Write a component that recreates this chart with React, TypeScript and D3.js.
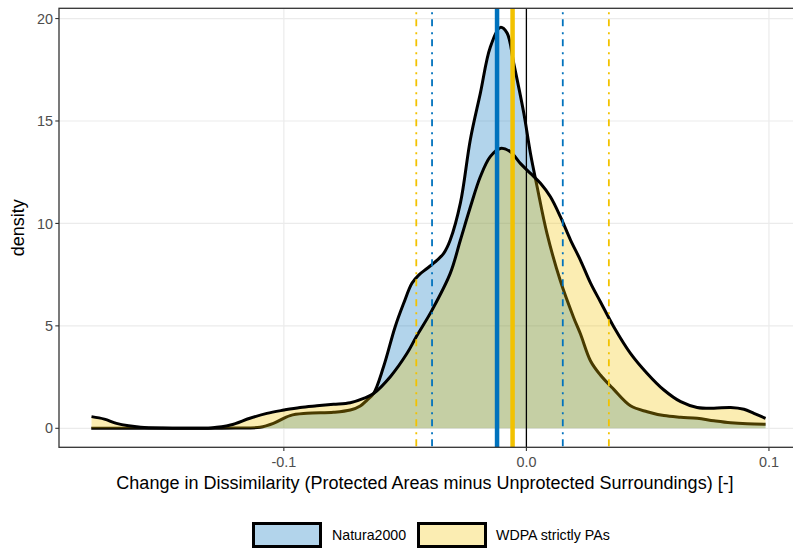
import React from "react";
import * as d3 from "d3";

// Density estimates of the change in dissimilarity for each protected-area set
const naturaX = [-0.1794, -0.16, -0.14, -0.12, -0.1098, -0.1043, -0.0974, -0.0905, -0.0795, -0.0726, -0.0685, -0.0657, -0.063, -0.0589, -0.0541, -0.0506, -0.0472, -0.0444, -0.041, -0.0369, -0.0341, -0.0314, -0.0272, -0.0231, -0.019, -0.0149, -0.0107, -0.008, -0.0052, -0.0011, 0.0017, 0.0044, 0.0085, 0.014, 0.0195, 0.0223, 0.0264, 0.0305, 0.036, 0.0429, 0.0498, 0.0567, 0.0636, 0.0704, 0.0773, 0.0842, 0.091, 0.0986];
const naturaY = [0, 0, 0, 0.01, 0.05, 0.24, 0.62, 0.73, 0.78, 0.89, 1.09, 1.38, 1.7, 3.0, 4.96, 6.1, 7.08, 7.48, 7.8, 8.2, 8.54, 9.19, 11.0, 14.1, 16.35, 18.6, 19.57, 19.3, 17.8, 15.4, 13.4, 11.8, 9.5, 7.2, 5.4, 4.6, 3.3, 2.6, 1.9, 1.1, 0.81, 0.62, 0.54, 0.49, 0.37, 0.27, 0.22, 0.2];

const wdpaX = [-0.1793, -0.174, -0.169, -0.164, -0.159, -0.15, -0.14, -0.13, -0.122, -0.114, -0.107, -0.1, -0.0933, -0.0864, -0.0795, -0.0726, -0.0671, -0.063, -0.0561, -0.0492, -0.0454, -0.0389, -0.0314, -0.0272, -0.0231, -0.019, -0.0149, -0.0107, -0.0066, -0.0025, 0.0017, 0.0058, 0.0099, 0.014, 0.0182, 0.0223, 0.0264, 0.0305, 0.036, 0.0429, 0.0498, 0.0567, 0.0636, 0.0704, 0.0773, 0.0842, 0.0897, 0.0938, 0.0986];
const wdpaY = [0.57, 0.45, 0.24, 0.12, 0.05, 0.01, 0, 0.02, 0.16, 0.49, 0.73, 0.89, 1.02, 1.1, 1.17, 1.25, 1.46, 1.7, 2.52, 3.66, 4.47, 5.77, 7.56, 9.19, 10.8, 12.28, 13.26, 13.66, 13.5, 12.93, 12.44, 11.96, 11.3, 10.33, 9.19, 8.2, 7.1, 6.18, 4.96, 3.66, 2.68, 1.87, 1.3, 1.02, 0.98, 1.02, 0.93, 0.73, 0.49];

// Means and interval bounds
const seriesNames = ["Natura2000", "WDPA strictly PAs"];
const seriesColors = ["#0072BD", "#F2C200"];
const meanValues = [-0.0121, -0.0057];
const lowerBounds = [-0.0389, -0.0454];
const upperBounds = [0.015, 0.034];

const xTicks = [-0.1, 0.0, 0.1];
const xTickLabels = ["-0.1", "0.0", "0.1"];
const yTicks = [0, 5, 10, 15, 20];

const W = 793;
const H = 550;
const panel = { left: 59, right: 800, top: 8.3, bottom: 447.3 };
const FONT = "'Liberation Sans', Arial, Helvetica, sans-serif";

export default function App() {
  const x = d3.scaleLinear().domain([-0.1927, 0.1128]).range([panel.left, panel.right]);
  const y = d3.scaleLinear().domain([-0.927, 20.5]).range([panel.bottom, panel.top]);

  const series = [
    naturaX.map((v, i) => [v, naturaY[i]] as [number, number]),
    wdpaX.map((v, i) => [v, wdpaY[i]] as [number, number]),
  ];

  const curve = d3.curveCatmullRom.alpha(0.5);
  const area = d3
    .area<[number, number]>()
    .x((d) => x(d[0]))
    .y0(y(0))
    .y1((d) => y(d[1]))
    .curve(curve);
  const line = d3
    .line<[number, number]>()
    .x((d) => x(d[0]))
    .y((d) => y(d[1]))
    .curve(curve);

  const legendKeys = [
    { x: 253.5, textX: 332 },
    { x: 418.5, textX: 496 },
  ];

  return (
    <svg width={W} height={H} style={{ display: "block", position: "absolute", left: 0, top: 0 }} fontFamily={FONT}>
      <rect x={0} y={0} width={W} height={H} fill="#fff" />
      <defs>
        <clipPath id="panel-clip">
          <rect x={panel.left} y={panel.top} width={panel.right - panel.left} height={panel.bottom - panel.top} />
        </clipPath>
      </defs>

      {/* grid */}
      <g stroke="#EBEBEB" strokeWidth={1.2}>
        {yTicks.map((t) => (
          <line key={"gy" + t} x1={panel.left} x2={panel.right} y1={y(t)} y2={y(t)} />
        ))}
        {xTicks.map((t) => (
          <line key={"gx" + t} x1={x(t)} x2={x(t)} y1={panel.top} y2={panel.bottom} />
        ))}
      </g>

      <g clipPath="url(#panel-clip)">
        {/* densities */}
        {series.map((s, i) => (
          <g key={seriesNames[i]}>
            <path d={area(s) ?? ""} fill={seriesColors[i]} fillOpacity={0.3} stroke="none" />
            <path d={line(s) ?? ""} fill="none" stroke="#000" strokeWidth={3} strokeLinejoin="round" strokeLinecap="butt" />
          </g>
        ))}

        {/* interval bounds */}
        {seriesNames.map((n, i) =>
          [lowerBounds[i], upperBounds[i]].map((b, j) => (
            <line
              key={n + "b" + j}
              x1={x(b)}
              x2={x(b)}
              y1={panel.top}
              y2={panel.bottom}
              stroke={seriesColors[i]}
              strokeWidth={1.8}
              strokeDasharray="2,5,7,6"
              strokeDashoffset={-4}
            />
          ))
        )}

        {/* means */}
        {seriesNames.map((n, i) => (
          <line key={n + "m"} x1={x(meanValues[i])} x2={x(meanValues[i])} y1={panel.top} y2={panel.bottom} stroke={seriesColors[i]} strokeWidth={4.5} />
        ))}
        <line x1={x(0)} x2={x(0)} y1={panel.top} y2={panel.bottom} stroke="#000" strokeWidth={1.3} />
      </g>

      {/* panel border */}
      <rect
        x={panel.left}
        y={panel.top}
        width={panel.right - panel.left}
        height={panel.bottom - panel.top}
        fill="none"
        stroke="#333"
        strokeWidth={1.3}
      />

      {/* y axis */}
      {yTicks.map((t) => (
        <g key={"yt" + t}>
          <line x1={panel.left - 3.7} x2={panel.left} y1={y(t)} y2={y(t)} stroke="#333" strokeWidth={1.1} />
          <text x={panel.left - 6} y={y(t)} dy="0.36em" textAnchor="end" fontSize={14.4} fill="#4D4D4D">
            {t}
          </text>
        </g>
      ))}

      {/* x axis */}
      {xTicks.map((t, i) => (
        <g key={"xt" + t}>
          <line x1={x(t)} x2={x(t)} y1={panel.bottom} y2={panel.bottom + 3.7} stroke="#333" strokeWidth={1.1} />
          <text x={x(t)} y={467} textAnchor="middle" fontSize={14.4} fill="#4D4D4D">
            {xTickLabels[i]}
          </text>
        </g>
      ))}

      <text x={425} y={489} textAnchor="middle" fontSize={18} fill="#000">
        Change in Dissimilarity (Protected Areas minus Unprotected Surroundings) [-]
      </text>
      <text transform={`translate(23.5,${(panel.top + panel.bottom) / 2}) rotate(-90)`} textAnchor="middle" fontSize={18} fill="#000">
        density
      </text>

      {/* legend */}
      {legendKeys.map((k, i) => (
        <g key={"lg" + i}>
          <rect x={k.x} y={523.5} width={67} height={23} fill="#fff" />
          <rect x={k.x} y={523.5} width={67} height={23} fill={seriesColors[i]} fillOpacity={0.3} stroke="#000" strokeWidth={3} />
          <text x={k.textX} y={535} dy="0.35em" fontSize={14.2} fill="#000">
            {seriesNames[i]}
          </text>
        </g>
      ))}
    </svg>
  );
}
